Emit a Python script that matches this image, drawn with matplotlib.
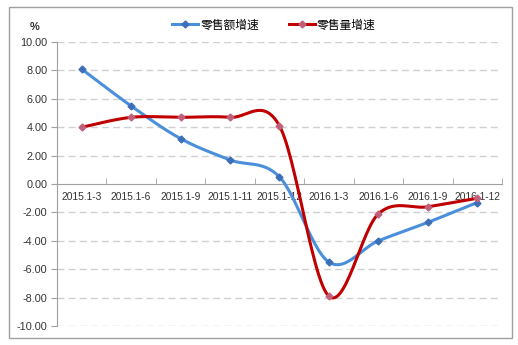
import numpy as np
import matplotlib
matplotlib.use("Agg")
import matplotlib.pyplot as plt
from matplotlib.lines import Line2D
from matplotlib.patches import Rectangle

plt.rcParams['font.family'] = ['Noto Sans CJK SC', 'DejaVu Sans']

categories = ['2015.1-3', '2015.1-6', '2015.1-9', '2015.1-11', '2015.1-12',
              '2016.1-3', '2016.1-6', '2016.1-9', '2016.1-12']
sales_value = [8.1, 5.5, 3.2, 1.7, 0.5, -5.5, -4.0, -2.7, -1.3]
sales_volume = [4.0, 4.7, 4.7, 4.7, 4.1, -7.9, -2.1, -1.6, -1.0]
names = ['零售额增速', '零售量增速']


def smooth(x, y, n=30):
    # Excel-like smoothing (Catmull-Rom via cubic Bezier)
    x = np.asarray(x, float)
    y = np.asarray(y, float)
    px = np.concatenate([[x[0]], x, [x[-1]]])
    py = np.concatenate([[y[0]], y, [y[-1]]])
    xs, ys = [], []
    t = np.linspace(0, 1, n)
    for i in range(1, len(px) - 2):
        p0 = np.array([px[i], py[i]])
        p3 = np.array([px[i + 1], py[i + 1]])
        p1 = p0 + (p3 - np.array([px[i - 1], py[i - 1]])) / 6
        p2 = p3 - (np.array([px[i + 2], py[i + 2]]) - p0) / 6
        b = ((1 - t) ** 3)[:, None] * p0 + (3 * (1 - t) ** 2 * t)[:, None] * p1 \
            + (3 * (1 - t) * t ** 2)[:, None] * p2 + (t ** 3)[:, None] * p3
        xs.append(b[:, 0])
        ys.append(b[:, 1])
    return np.concatenate(xs), np.concatenate(ys)


fig = plt.figure(figsize=(5.18, 3.45), dpi=100)
ax = fig.add_axes([0.110, 0.055, 0.859, 0.823])

# spine position first: it resets the ticks
ax.spines['bottom'].set_position(('data', 0))
ax.spines['bottom'].set_color('#A0A0A0')
ax.spines['left'].set_color('#A0A0A0')
ax.spines['top'].set_visible(False)
ax.spines['right'].set_visible(False)

x = np.arange(len(categories)) + 0.5
blue, blue_m = '#4A8FDB', '#3D6FB8'
red, red_m = '#C00000', '#C0607A'

sx, sy = smooth(x, sales_value)
ax.plot(sx, sy, color=blue, lw=2.2, zorder=3)
ax.plot(x, sales_value, 'D', color=blue_m, ms=3.5, zorder=4)
sx, sy = smooth(x, sales_volume)
ax.plot(sx, sy, color=red, lw=2.2, zorder=3)
ax.plot(x, sales_volume, 'D', color=red_m, ms=3.5, zorder=4)

tick_font = ['Liberation Sans', 'DejaVu Sans']
ax.set_xlim(0, len(categories))
ax.set_ylim(-10, 10)
for v in np.arange(-10, 11, 2):
    if v != 0:
        ax.axhline(v, color='#D0D0D0', lw=1, ls=(0, (5, 3)), zorder=1)

ax.set_xticks(np.arange(0, len(categories) + 1), minor=True)
ax.set_xticks(x)
ax.tick_params(axis='x', which='major', length=0, pad=6)
ax.tick_params(axis='x', which='minor', direction='in', length=4, color='#A0A0A0')
ax.tick_params(axis='y', length=4, color='#A0A0A0', pad=3)
ax.set_xticklabels(categories, fontsize=7.4, family=tick_font, color='#333333')
ax.set_yticks(np.arange(-10, 11, 2))
ax.set_yticklabels(['%.2f' % v for v in np.arange(-10, 11, 2)], fontsize=7.8,
                   family=tick_font, color='#333333')

fig.text(35 / 518, 1 - 27 / 345, '%', ha='center', va='center', fontsize=8,
         family=tick_font, fontweight='bold', color='#333333')

handles = [Line2D([], [], color=blue, lw=2.2, marker='D', ms=3.5, mfc=blue_m, mec=blue_m),
           Line2D([], [], color=red, lw=2.2, marker='D', ms=3.5, mfc=red_m, mec=red_m)]
fig.legend(handles, names, loc='center', bbox_to_anchor=(274 / 518, 1 - 25 / 345),
           ncol=2, frameon=False, fontsize=8.5, handlelength=2.2, handletextpad=0.2,
           columnspacing=2.5)

fig.patches.append(Rectangle((9 / 518, 7 / 345), 503 / 518, 331 / 345,
                             transform=fig.transFigure, fill=False,
                             edgecolor='#A0A0A0', lw=1))

fig.savefig('out.png', dpi=100)
